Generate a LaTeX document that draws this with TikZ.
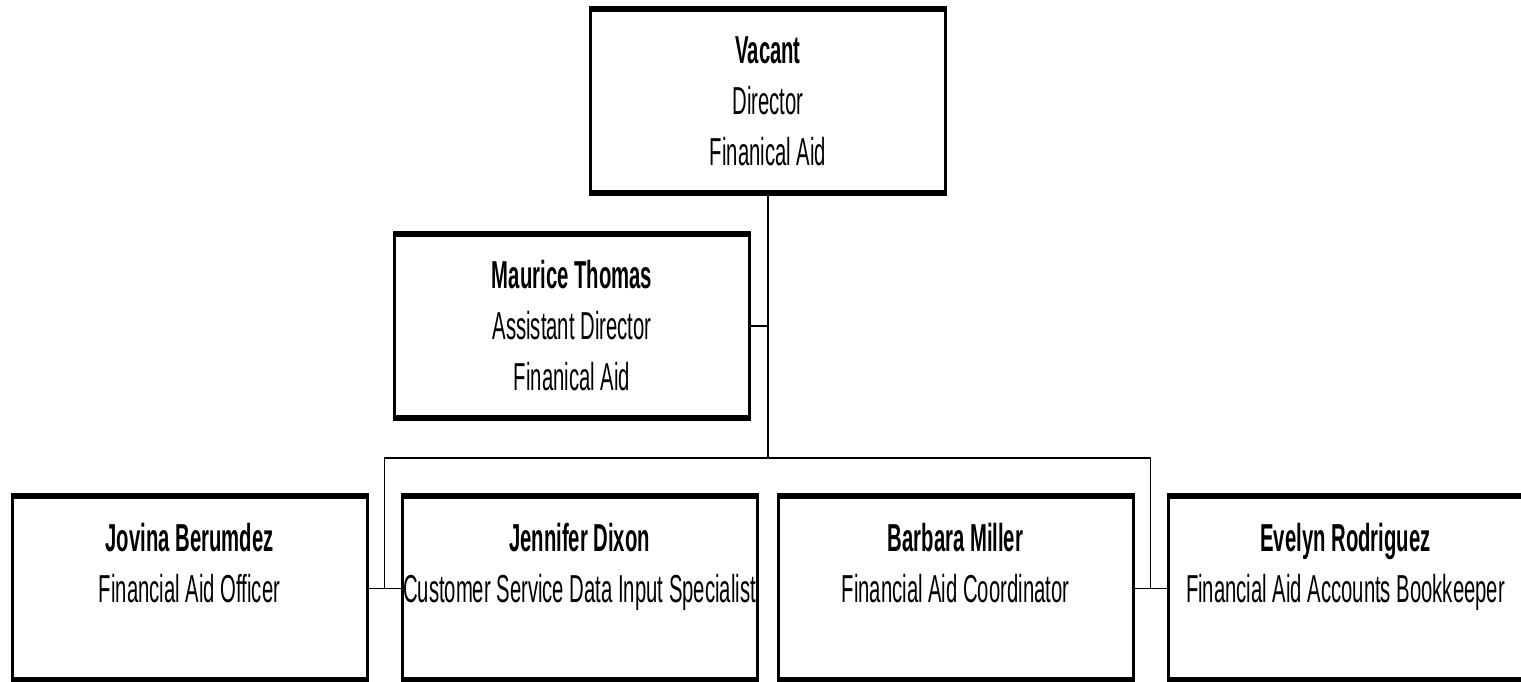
\documentclass[tikz,border=0pt]{standalone}
\usepackage{fontspec}
\setmainfont[FakeStretch=0.52]{Liberation Sans}
\usepackage{tikz}
\usetikzlibrary{calc}
\tikzset{>=latex}
\definecolor{myline}{RGB}{0, 0, 0}

\begin{document}
\begin{tikzpicture}[x=1pt, y=1pt,
  person/.style={draw=myline, line width=3pt, minimum width=355pt, minimum height=181pt,
    inner sep=0pt, align=center, font=\fontsize{39}{51}\selectfont},
  conn/.style={myline, line width=1.8pt}]
\useasboundingbox (0,0) rectangle (1521,682);
\clip (0,0) rectangle (1521,682);
\node[person] (dir) at (768, 580.5) {\textbf{Vacant}\\Director\\Finanical Aid};
\node[person] (asst) at (572, 356) {\textbf{Maurice Thomas}\\Assistant Director\\Finanical Aid};
\node[person] (jb) at (189.5, 93.5) {\textbf{Jovina Berumdez}\\Financial Aid Officer\\~};
\node[person] (jd) at (579.5, 93.5) {\textbf{Jennifer Dixon}\\Customer Service Data Input Specialist\\~};
\node[person] (bm) at (955.5, 93.5) {\textbf{Barbara Miller}\\Financial Aid Coordinator\\~};
\node[person] (er) at (1345.5, 93.5) {\textbf{Evelyn Rodriguez}\\Financial Aid Accounts Bookkeeper\\~};
\foreach \n in {dir, asst, jb, jd, bm, er}{
\draw[myline, line width = 6pt] (\n.north west) -- (\n.north east);
\draw[myline, line width = 6pt] (\n.south west) -- (\n.south east);
}
\coordinate (bus) at (768, 224);
\coordinate (j1) at ($(jb.east)!0.5!(jd.west)$);
\coordinate (j2) at ($(bm.east)!0.5!(er.west)$);
\draw[conn] (dir.south) -- (bus);
\draw[conn] (asst.east) -- (asst.east -| bus);
\draw[conn] (jb.east) -- (jd.west);
\draw[conn] (bm.east) -- (er.west);
\draw[conn] (j1) |- (bus) -| (j2);
\end{tikzpicture}
\end{document}
